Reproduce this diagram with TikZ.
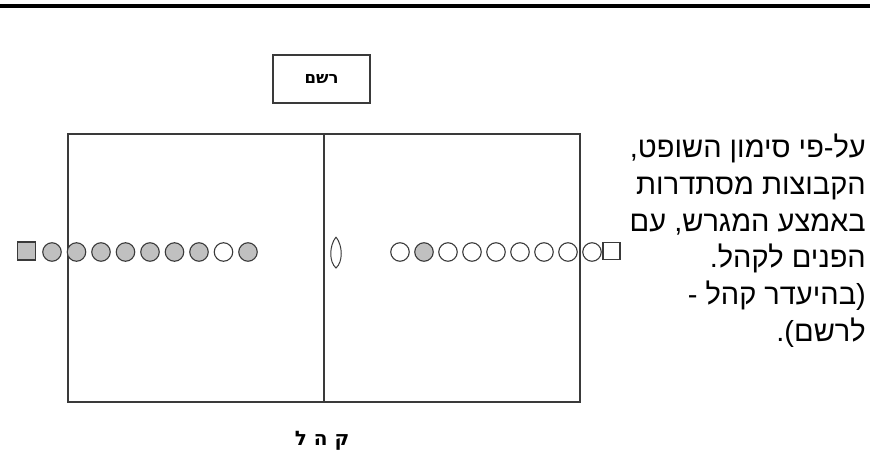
\documentclass[tikz,border=0pt]{standalone}
\usepackage{fontspec}
\setmainfont{Liberation Sans}
\newfontfamily\hebfont[Script=Hebrew]{Liberation Sans}
\newfontfamily\hebbold[Script=Hebrew]{DejaVu Sans Bold}
\TeXXeTstate=1
\definecolor{ink}{HTML}{3A3A3A}
\definecolor{fillg}{HTML}{C0C0C0}
\begin{document}
\begin{tikzpicture}[x=1pt,y=-1pt,
  player/.style={circle,draw=ink,line width=1.1pt,minimum size=18.5pt,inner sep=0pt},
  gp/.style={player,fill=fillg},
  wp/.style={player,fill=white},
  coachbox/.style={rectangle,draw=ink,line width=1.1pt,minimum size=18pt,inner sep=0pt},
  txt/.style={anchor=base east,inner sep=0pt,font=\hebfont\fontsize{29}{32}\selectfont}]
\useasboundingbox (0,0) rectangle (870,460);
\fill[black] (0,3.8) rectangle (870,8.4);
% secretary box
\node[rectangle,draw=ink,line width=1.1pt,minimum width=97pt,minimum height=48pt,inner sep=0pt,
      font=\hebbold\fontsize{16.5}{18}\selectfont] (sec) at (321.5,79) {\beginR רשם\endR};
% field
\node[draw=ink,line width=1.4pt,minimum width=512pt,minimum height=268pt,inner sep=0pt] (field) at (324,268) {};
\draw[ink,line width=1.4pt] (field.north) -- (field.south);
% left team
\node[coachbox,fill=fillg] (lc) at (26.5,251) {};
\foreach \i/\s in {0/gp,1/gp,2/gp,3/gp,4/gp,5/gp,6/gp,7/wp,8/gp}{
  \node[\s] (lp\i) at ({52+24.5*\i},252) {};
}
% right team
\foreach \i/\s in {0/wp,1/gp,2/wp,3/wp,4/wp,5/wp,6/wp,7/wp,8/wp}{
  \node[\s] (rp\i) at ({400+24*\i},252) {};
}
\node[coachbox,fill=white,minimum size=17pt] (rc) at (611.5,251) {};
% referee / ball
\draw[ink,line width=1pt] (336,237) .. controls (343,246) and (343,262) .. (336,268)
   .. controls (329,262) and (329,246) .. (336,237);
% explanation
\node[txt] (l1) at (866,157) {\beginR על-פי סימון השופט,\endR};
\node[txt] (l2) at (866,194) {\beginR הקבוצות מסתדרות\endR};
\node[txt] (l3) at (866,231) {\beginR באמצע המגרש, עם\endR};
\node[txt] (l4) at (866,267) {\beginR הפנים לקהל.\endR};
\node[txt] (l5) at (866,304) {\beginR (בהיעדר קהל -\endR};
\node[txt] (l6) at (866,341) {\beginR לרשם).\endR};
% audience
\node[anchor=base,inner sep=0pt,font=\hebbold\fontsize{20}{22}\selectfont] (aud) at (322,445) {\beginR ק ה ל\endR};
\end{tikzpicture}
\end{document}
